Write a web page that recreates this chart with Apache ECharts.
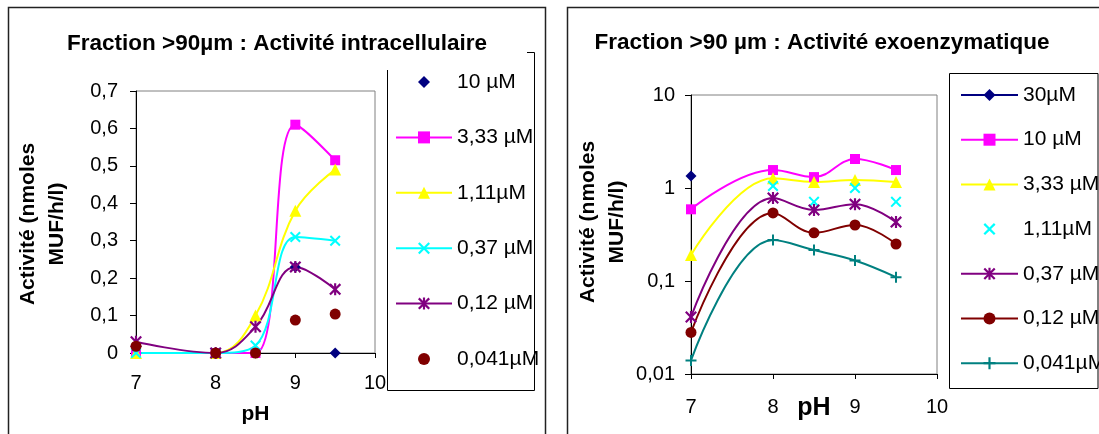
<!DOCTYPE html>
<html><head><meta charset="utf-8">
<script src="https://cdn.jsdelivr.net/npm/echarts@6/dist/echarts.min.js"></script>
<style>html,body{margin:0;padding:0;background:#fff;}.c{position:absolute;left:0;top:0;width:1099px;height:434px;}</style>
</head><body>
<div id="c1" class="c"></div><div id="c2" class="c"></div>
<script>
// ---- data ----
const pH = [7, 8, 8.5, 9, 9.5];
// Left chart : intracellular activity (nmoles MUF/h/l)
const intraNames = ['10 µM', '3,33 µM', '1,11µM', '0,37 µM', '0,12 µM', '0,041µM'];
const intra_10   = [0, 0, 0, 0.23, 0];
const intra_333  = [0, 0, 0, 0.61, 0.515];
const intra_111  = [0, 0, 0.10, 0.38, 0.49];
const intra_037  = [0, 0, 0.02, 0.31, 0.30];
const intra_012  = [0.03, 0, 0.07, 0.23, 0.17];
const intra_0041 = [0.018, 0, 0, 0.088, 0.104];
// Right chart : exoenzymatic activity (log scale)
const exoNames = ['30µM', '10 µM', '3,33 µM', '1,11µM', '0,37 µM', '0,12 µM', '0,041µM'];
const exo_30   = [1.35, null, null, null, null];
const exo_10   = [0.59, 1.56, 1.31, 2.05, 1.56];
const exo_333  = [0.19, 1.27, 1.16, 1.22, 1.16];
const exo_111  = [null, 1.05, 0.71, 1.0, 0.71];
const exo_037  = [0.041, 0.78, 0.58, 0.67, 0.43];
const exo_012  = [0.028, 0.54, 0.33, 0.40, 0.25];
const exo_0041 = [0.014, 0.276, 0.215, 0.166, 0.11];
const titleLeft = 'Fraction >90µm : Activité intracellulaire';
const titleRight = 'Fraction >90 µm : Activité exoenzymatique';
const yName = 'Activité (nmoles\nMUF/h/l)';
const xName = 'pH';

// ---- helpers ----
const FONT = 'Liberation Sans, Arial, sans-serif';
const zip = (ys) => pH.map((x, i) => [x, ys[i]]).filter(p => p[1] !== null);
const comma = v => String(v).replace('.', ',');
const t = 1.3;
const X_PATH = `path://M${t},0L5,${5-t}L${10-t},0L10,${t}L${5+t},5L10,${10-t}L${10-t},10L5,${5+t}L${t},10L0,${10-t}L${5-t},5L0,${t}Z`;
const STAR_PATH = X_PATH + 'M4.1,0H5.9V10H4.1Z';
const PLUS_PATH = 'path://M4.1,0H5.9V4.1H10V5.9H5.9V10H4.1V5.9H0V4.1H4.1Z';

function lineS(name, ys, color, symbol, size, gi) {
  return { name, type: 'line', data: zip(ys), smooth: 0.4, symbol, symbolSize: size,
    xAxisIndex: gi, yAxisIndex: gi,
    lineStyle: { color, width: 2 }, itemStyle: { color, borderWidth: 0 },
    emphasis: { disabled: true }, animation: false };
}
// markers only (no connecting line)
function markS(name, ys, color, symbol, size, gi) {
  return { name, type: 'line', data: zip(ys), symbol, symbolSize: size,
    xAxisIndex: gi, yAxisIndex: gi,
    lineStyle: { color, width: 0, opacity: 0 }, itemStyle: { color, borderWidth: 0, opacity: 1 },
    emphasis: { disabled: true }, animation: false };
}
const axisLineBlack = { show: true, lineStyle: { color: '#000', width: 1 } };
const lbl = (size, margin, fmt) => ({ color: '#000', fontSize: size, fontFamily: FONT, margin, formatter: fmt });

// ---- left chart ----
const c1 = echarts.init(document.getElementById('c1'), null, { renderer: 'canvas' });
c1.setOption({
  backgroundColor: '#fff',
  animation: false,
  grid: [{ left: 136, top: 91, width: 239, height: 262, show: true, borderColor: '#808080', borderWidth: 1, backgroundColor: 'transparent', outerBoundsMode: 'none' }],
  xAxis: [{ type: 'value', gridIndex: 0, min: 7, max: 10, interval: 1,
    axisLine: axisLineBlack, axisTick: { show: true, length: 5, lineStyle: { color: '#000' } },
    splitLine: { show: false }, axisLabel: lbl(20, 20),
    name: xName, nameLocation: 'middle', nameGap: 51, nameMoveOverlap: false,
    nameTextStyle: { color: '#000', fontSize: 21, fontWeight: 'bold', fontFamily: FONT } }],
  yAxis: [{ type: 'value', gridIndex: 0, min: 0, max: 0.7, interval: 0.1,
    axisLine: axisLineBlack, axisTick: { show: true, length: 6, lineStyle: { color: '#000' } },
    splitLine: { show: false }, axisLabel: lbl(20, 18, v => comma(+v.toFixed(1))) }],
  legend: [{ orient: 'vertical', left: 390, top: 66.5, itemWidth: 56, itemHeight: 15, itemGap: 34.4,
    data: intraNames, selectedMode: false,
    textStyle: { color: '#000', fontSize: 21, fontFamily: FONT, lineHeight: 21 } }],
  series: [
    markS(intraNames[0], intra_10, '#000080', 'diamond', 11, 0),
    lineS(intraNames[1], intra_333, '#FF00FF', 'rect', 10, 0),
    lineS(intraNames[2], intra_111, '#FFFF00', 'triangle', 12, 0),
    lineS(intraNames[3], intra_037, '#00FFFF', X_PATH, 11, 0),
    lineS(intraNames[4], intra_012, '#800080', STAR_PATH, 12, 0),
    markS(intraNames[5], intra_0041, '#800000', 'circle', 11, 0)
  ],
  graphic: [
    { type: 'rect', shape: { x: 8.5, y: 7.5, width: 537, height: 440 }, style: { fill: 'none', stroke: '#222', lineWidth: 1.5 }, silent: true },
    { type: 'polyline', shape: { points: [[387.5, 70], [387.5, 390.5], [534.5, 390.5], [534.5, 52.5], [527, 52.5]] }, style: { fill: 'none', stroke: '#000', lineWidth: 1 }, silent: true },
    { type: 'text', x: 277, y: 44, style: { text: titleLeft, font: 'bold 22.5px ' + FONT, fill: '#000', align: 'center', verticalAlign: 'middle' }, silent: true },
    { type: 'text', x: 42.5, y: 224, rotation: Math.PI / 2, style: { text: yName, font: 'bold 21px ' + FONT, lineHeight: 29, fill: '#000', align: 'center', verticalAlign: 'middle' }, silent: true }
  ]
});

// ---- right chart ----
const c2 = echarts.init(document.getElementById('c2'), null, { renderer: 'canvas' });
c2.setOption({
  backgroundColor: 'transparent',
  animation: false,
  grid: [{ left: 691, top: 95, width: 246, height: 279, show: true, borderColor: '#808080', borderWidth: 1, backgroundColor: 'transparent', outerBoundsMode: 'none' }],
  xAxis: [{ type: 'value', gridIndex: 0, min: 7, max: 10, interval: 1,
    axisLine: axisLineBlack, axisTick: { show: true, length: 5, lineStyle: { color: '#000' } },
    splitLine: { show: false }, axisLabel: lbl(20, 23),
    name: xName, nameLocation: 'middle', nameGap: 22, nameMoveOverlap: false,
    nameTextStyle: { color: '#000', fontSize: 25, fontWeight: 'bold', fontFamily: FONT } }],
  yAxis: [{ type: 'log', logBase: 10, gridIndex: 0, min: 0.01, max: 10,
    axisLine: axisLineBlack, axisTick: { show: true, length: 6, lineStyle: { color: '#000' } },
    minorTick: { show: false }, splitLine: { show: false }, axisLabel: lbl(20, 16, v => comma(v)) }],
  legend: [{ orient: 'vertical', left: 955, top: 79.5, itemWidth: 57, itemHeight: 15, itemGap: 23.7,
    data: exoNames, selectedMode: false,
    textStyle: { color: '#000', fontSize: 21, fontFamily: FONT, lineHeight: 21 } }],
  series: [
    lineS(exoNames[0], exo_30, '#000080', 'diamond', 11, 0),
    lineS(exoNames[1], exo_10, '#FF00FF', 'rect', 10, 0),
    lineS(exoNames[2], exo_333, '#FFFF00', 'triangle', 12, 0),
    markS(exoNames[3], exo_111, '#00FFFF', X_PATH, 11, 0),
    lineS(exoNames[4], exo_037, '#800080', STAR_PATH, 12, 0),
    lineS(exoNames[5], exo_012, '#800000', 'circle', 11, 0),
    lineS(exoNames[6], exo_0041, '#008080', PLUS_PATH, 11, 0)
  ],
  graphic: [
    { type: 'rect', shape: { x: 567.5, y: 7.5, width: 560, height: 440 }, style: { fill: 'none', stroke: '#222', lineWidth: 1.5 }, silent: true },
    { type: 'rect', shape: { x: 949.5, y: 73.5, width: 148.5, height: 315 }, style: { fill: 'none', stroke: '#000', lineWidth: 1 }, silent: true },
    { type: 'text', x: 822, y: 43, style: { text: titleRight, font: 'bold 22.5px ' + FONT, fill: '#000', align: 'center', verticalAlign: 'middle' }, silent: true },
    { type: 'text', x: 602.5, y: 222, rotation: Math.PI / 2, style: { text: yName, font: 'bold 21px ' + FONT, lineHeight: 29, fill: '#000', align: 'center', verticalAlign: 'middle' }, silent: true }
  ]
});
</script>
</body></html>
